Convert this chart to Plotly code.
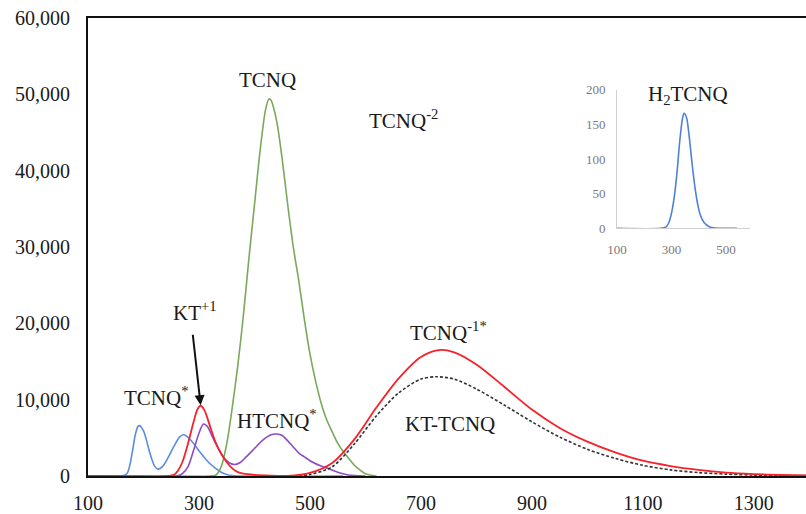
import plotly.graph_objects as go

# ---- series: wavelength (nm) vs. intensity ----
tcnq_star_x = [100, 160, 170, 175, 180, 185, 190, 193, 200, 205, 210, 215, 220, 226, 235, 245, 255,
               265, 272, 280, 290, 300, 310, 320, 330, 340, 350, 360, 370, 560]
tcnq_star_y = [0, 0, 300, 1300, 3200, 5300, 6500, 6600, 5900, 4800, 3400, 2200, 1300, 900, 1300,
               2500, 3900, 5100, 5400, 5100, 4300, 3300, 2400, 1600, 1000, 500, 200, 50, 0, 0]

kt_plus_x = [100, 245, 255, 262, 270, 280, 290, 297, 303, 310, 320, 330, 340, 350, 360, 370, 380,
             400, 430, 460]
kt_plus_y = [0, 0, 150, 700, 1800, 4200, 7000, 8700, 9200, 8600, 6500, 4400, 2900, 1800, 1000,
             500, 300, 150, 50, 0]

htcnq_x = [100, 260, 270, 280, 290, 300, 308, 315, 325, 335, 345, 355, 365, 375, 385, 400, 415,
           430, 440, 450, 460, 470, 480, 490, 505, 520, 536, 550, 565, 580, 600]
htcnq_y = [0, 0, 300, 1200, 3300, 5600, 6800, 6500, 5000, 3600, 2400, 1700, 1500, 1800, 2500,
           3600, 4700, 5400, 5500, 5300, 4600, 3800, 3000, 2500, 1800, 1300, 900, 500, 200, 50, 0]

tcnq_x = [100, 320, 330, 340, 350, 360, 370, 380, 390, 400, 410, 420, 426, 430, 440, 450, 460, 470,
          480, 490, 500, 510, 520, 530, 540, 550, 560, 570, 580, 590, 600, 610, 620]
tcnq_y = [0, 0, 100, 1200, 4200, 9000, 14500, 21000, 28500, 35500, 42500, 48000, 49400, 49200,
          46500, 41500, 35500, 30000, 25500, 20500, 16000, 12500, 9600, 7400, 5800, 4300, 3200,
          2300, 1400, 800, 300, 100, 0]

tcnq_m1_x = [100, 460, 500, 540, 580, 620, 660, 700, 732, 760, 800, 850, 900, 950, 1000, 1050,
             1100, 1150, 1200, 1250, 1300, 1350, 1394]
tcnq_m1_y = [0, 0, 400, 1700, 4800, 9000, 12800, 15600, 16500, 16200, 14600, 11700, 8700, 6300,
             4500, 3100, 2000, 1300, 800, 450, 250, 130, 80]

kt_tcnq_x = [480, 500, 540, 580, 620, 660, 700, 728, 760, 800, 850, 900, 950, 1000, 1050, 1100,
             1150, 1200, 1250, 1300, 1394]
kt_tcnq_y = [0, 200, 1200, 4200, 7900, 10900, 12700, 13000, 12700, 11400, 9300, 7100, 5100,
             3500, 2300, 1400, 800, 450, 250, 120, 50]

# inset: H2TCNQ
h2tcnq_x = [100, 260, 280, 290, 300, 310, 320, 330, 340, 346, 355, 365, 375, 385, 395, 405, 420,
            440, 460, 480, 540]
h2tcnq_y = [0, 0, 2, 8, 22, 45, 80, 125, 158, 166, 160, 132, 95, 62, 37, 20, 8, 2, 0.3, 0, 0]

x_ticks = [100, 300, 500, 700, 900, 1100, 1300]
y_ticks = [0, 10000, 20000, 30000, 40000, 50000, 60000]
inset_x_ticks = [100, 300, 500]
inset_y_ticks = [0, 50, 100, 150, 200]

SERIF = "Liberation Serif, Times New Roman, serif"
BLUE = "#5b8de0"
RED = "#f5222a"
GREEN = "#79a95a"
PURPLE = "#8e4cc4"

fig = go.Figure()


def add_line(x, y, color, width=1.6, dash=None, axes=("x", "y")):
    fig.add_trace(go.Scatter(
        x=x, y=y, mode="lines", xaxis=axes[0], yaxis=axes[1],
        line=dict(color=color, width=width, shape="spline", smoothing=0.8, dash=dash),
        hoverinfo="skip", showlegend=False))


add_line(tcnq_star_x, tcnq_star_y, BLUE)
add_line(tcnq_x, tcnq_y, GREEN)
add_line(htcnq_x, htcnq_y, PURPLE)
add_line(kt_tcnq_x, kt_tcnq_y, "#333333", width=1.6, dash="3px,2px")
add_line(kt_plus_x, kt_plus_y, RED, width=1.8)
add_line(tcnq_m1_x, tcnq_m1_y, RED, width=1.8)
add_line(h2tcnq_x, h2tcnq_y, "#4f80d8", width=1.6, axes=("x2", "y2"))

labels = [
    ("TCNQ", 423, 51900),
    ("TCNQ<sup>-2</sup>", 668, 46700),
    ("KT<sup>+1</sup>", 292, 21500),
    ("TCNQ<sup>*</sup>", 223, 10400),
    ("HTCNQ<sup>*</sup>", 441, 7400),
    ("TCNQ<sup>-1*</sup>", 749, 18900),
    ("KT-TCNQ", 752, 6800),
]
for text, lx, ly in labels:
    fig.add_annotation(x=lx, y=ly, xref="x", yref="y", text=text, showarrow=False,
                       font=dict(family=SERIF, size=21, color="#1a1a1a"))

# arrow pointing to the KT+1 peak
fig.add_annotation(x=303, y=9270, xref="x", yref="y", text="", showarrow=True,
                   ax=-8, ay=-72, arrowhead=2, arrowsize=1, arrowwidth=2,
                   arrowcolor="#111111", standoff=0)

fig.add_annotation(x=361, y=192, xref="x2", yref="y2", text="H<sub>2</sub>TCNQ",
                   showarrow=False, font=dict(family=SERIF, size=21, color="#1a1a1a"))

fig.update_layout(
    width=806, height=514,
    margin=dict(l=88, r=0, t=18, b=30),
    paper_bgcolor="white", plot_bgcolor="white",
    xaxis=dict(range=[100, 1394], tickvals=x_ticks, showgrid=False, zeroline=False,
               showline=True, linecolor="#111111", linewidth=2, mirror=True, ticks="",
               ticklabelstandoff=8,
               tickfont=dict(family=SERIF, size=20, color="#1a1a1a")),
    yaxis=dict(range=[0, 60000], tickvals=y_ticks, tickformat=",d", showgrid=False,
               zeroline=False, showline=True, linecolor="#111111", linewidth=2, ticks="",
               ticklabelstandoff=12,
               tickfont=dict(family=SERIF, size=20, color="#1a1a1a")),
    xaxis2=dict(domain=[0.7368, 0.9220], anchor="y2", range=[100, 588],
                tickvals=inset_x_ticks, showgrid=False, zeroline=False, showline=True,
                linecolor="#d0d0d0", linewidth=1, ticks="", ticklabelstandoff=9,
                tickfont=dict(family=SERIF, size=13, color="#7a7a7a")),
    yaxis2=dict(domain=[0.5408, 0.8433], anchor="x2", range=[0, 200],
                tickvals=inset_y_ticks, showgrid=False, zeroline=False, showline=True,
                linecolor="#d0d0d0", linewidth=1, ticks="", ticklabelstandoff=8,
                tickfont=dict(family=SERIF, size=13, color="#7a7a7a")),
)

fig.write_html("out.html")
